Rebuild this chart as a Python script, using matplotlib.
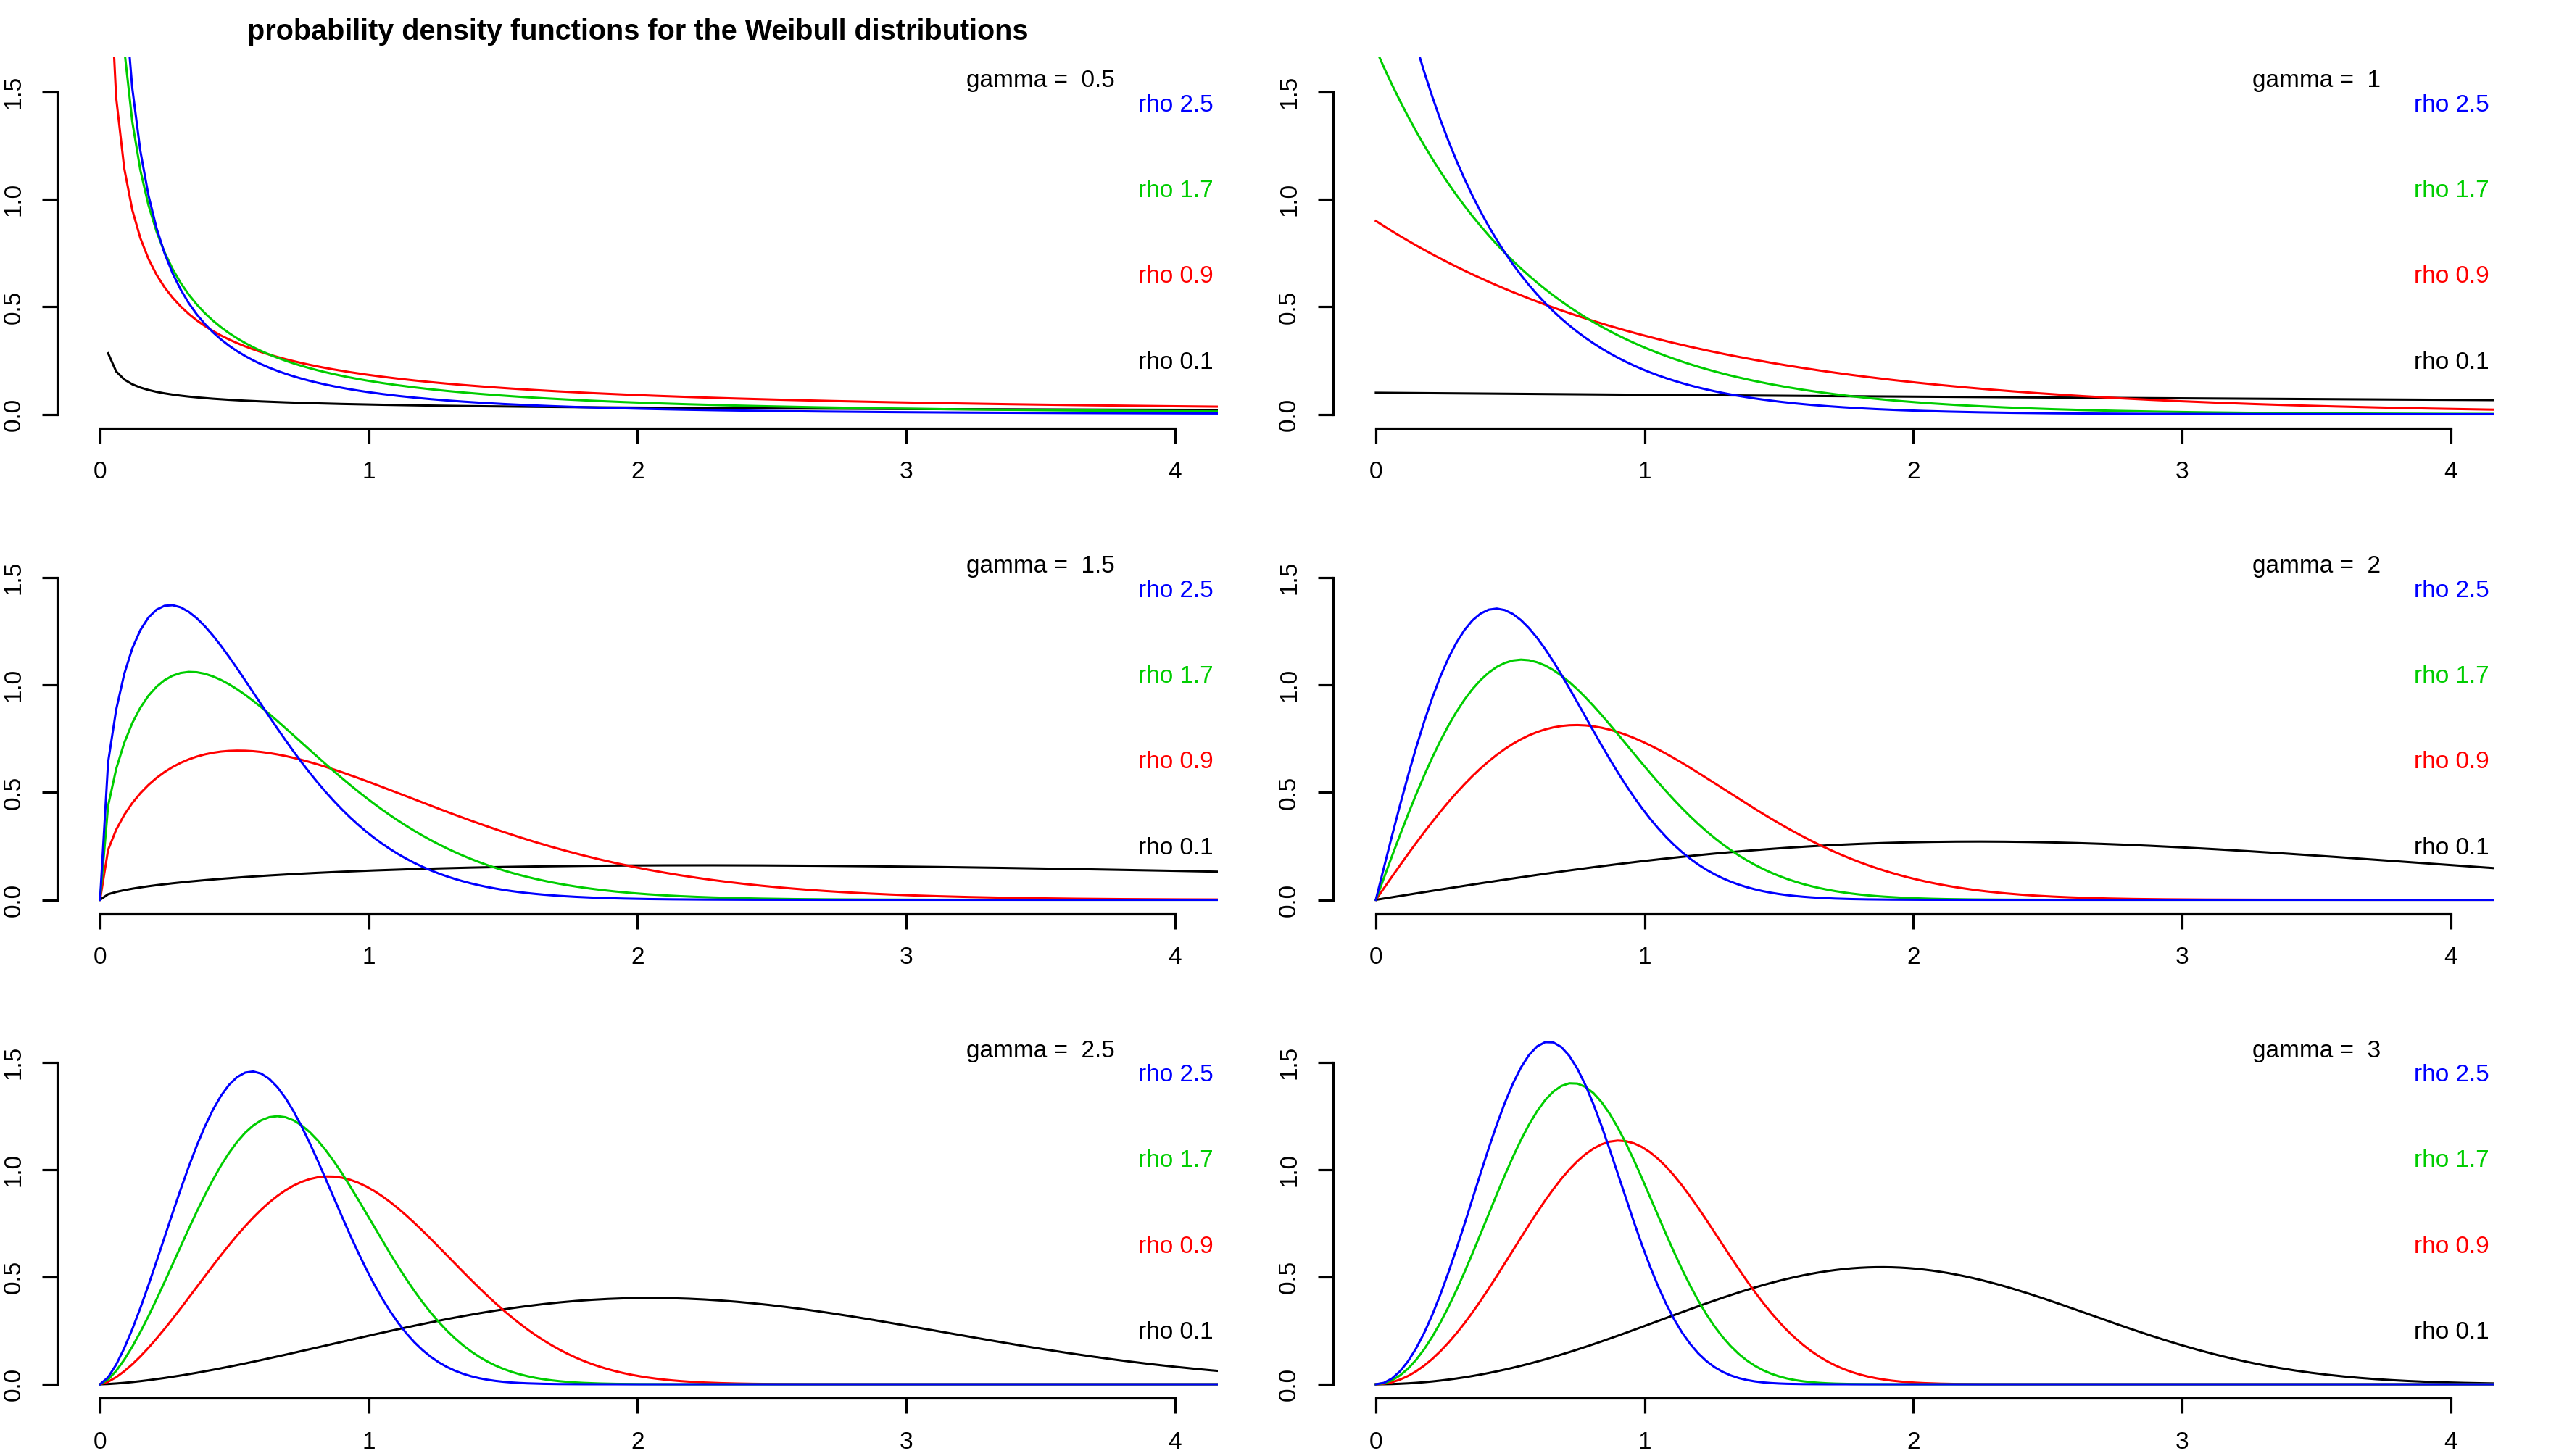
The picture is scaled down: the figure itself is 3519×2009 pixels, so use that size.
import numpy as np
import matplotlib
matplotlib.use("Agg")
import matplotlib.pyplot as plt

# Weibull parameters shown in the panels
gammas = [0.5, 1, 1.5, 2, 2.5, 3]
rhos = [0.1, 0.9, 1.7, 2.5]
colors = ["black", "#FF0000", "#00CD00", "#0000FF"]
xticks = [0, 1, 2, 3, 4]
yticks = [0.0, 0.5, 1.0, 1.5]
title = "probability density functions for the Weibull distributions"

x = np.arange(0, 4.5, 0.03)


def weibull_pdf(x, g, r):
    with np.errstate(divide="ignore", invalid="ignore"):
        y = g * r * x ** (g - 1) * np.exp(-r * x ** g)
    return np.where(np.isfinite(y), y, np.nan)


plt.rcParams["font.family"] = ["Liberation Sans", "DejaVu Sans"]
fig = plt.figure(figsize=(35.19, 20.09), dpi=100)

W, H = 3519, 2009
col_left = [78.7, 1838.6]
col_w = 1601.5
row_bottom = [590.5, 1260.5, 1929]
row_h = 512

axes = []
for i, g in enumerate(gammas):
    r_i, c_i = divmod(i, 2)
    l = col_left[c_i] / W
    b = 1 - row_bottom[r_i] / H
    ax = fig.add_axes([l, b, col_w / W, row_h / H])
    axes.append(ax)
    for rho, col in zip(rhos, colors):
        ax.plot(x, weibull_pdf(x, g, rho), color=col, lw=2.2)
    ax.set_xlim(-0.16, 4.16)
    ax.set_ylim(-0.064, 1.664)
    for s in ["top", "right"]:
        ax.spines[s].set_visible(False)
    ax.spines["left"].set_bounds(0, 1.5)
    ax.spines["bottom"].set_bounds(0, 4)
    for s in ["left", "bottom"]:
        ax.spines[s].set_linewidth(2.3)
    ax.set_xticks(xticks)
    ax.set_xticklabels([str(t) for t in xticks])
    ax.set_yticks(yticks)
    ax.set_yticklabels([f"{t:.1f}" for t in yticks], rotation=90, va="center")
    ax.tick_params(axis="both", direction="out", length=15, width=2.3, labelsize=24)
    ax.tick_params(axis="x", pad=18)
    ax.tick_params(axis="y", pad=17)

    ax.text(0.8474, 0.935, f"gamma =  {g:g}", transform=ax.transAxes,
            ha="center", va="center", fontsize=24)
    for k, (rho, col) in enumerate(zip(rhos[::-1], colors[::-1])):
        ax.text(0.9315, 0.870 - k * 0.2313, f"rho {rho:g}", color=col,
                transform=ax.transAxes, ha="left", va="center", fontsize=24)

axes[0].text(0.5, (590.5 - 55) / row_h, title, transform=axes[0].transAxes,
             ha="center", va="baseline", fontsize=28.5, fontweight="bold")

fig.savefig("out.png", dpi=100)
